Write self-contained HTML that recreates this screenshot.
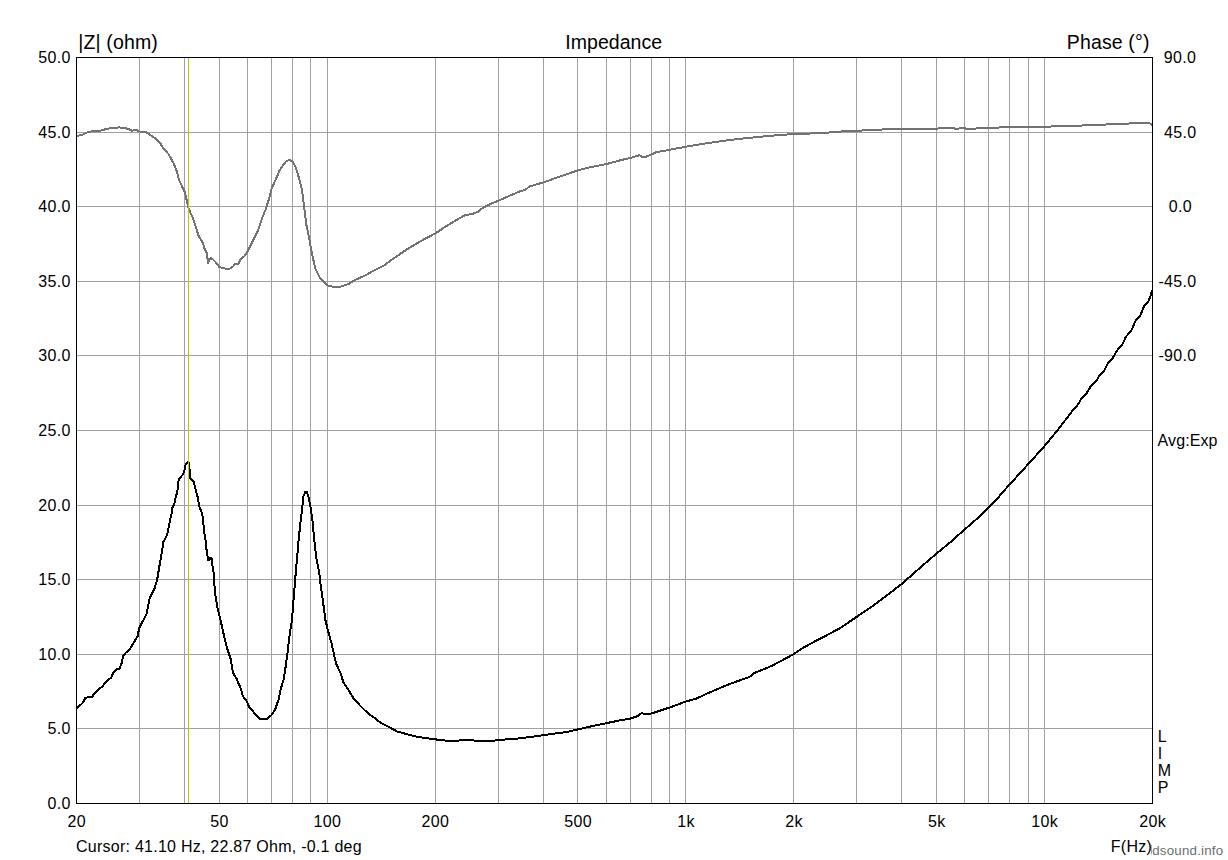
<!DOCTYPE html>
<html><head><meta charset="utf-8"><title>Impedance</title>
<style>
html,body{margin:0;padding:0;background:#fff;}
body{width:1228px;height:860px;overflow:hidden;position:relative;font-family:"Liberation Sans",sans-serif;}
svg{position:absolute;left:0;top:0;display:block}
text{font-family:"Liberation Sans",sans-serif;fill:#000}
.t16{font-size:16px;letter-spacing:0.3px}.t19{font-size:19.5px;letter-spacing:0.15px}
</style></head><body>
<svg width="1228" height="860" viewBox="0 0 1228 860">
<rect x="0" y="0" width="1228" height="860" fill="#fff"/>
<g shape-rendering="crispEdges" stroke="#a0a0a0" stroke-width="1" fill="none">
<line x1="139.5" y1="57.5" x2="139.5" y2="803.5"/>
<line x1="184.5" y1="57.5" x2="184.5" y2="803.5"/>
<line x1="219.5" y1="57.5" x2="219.5" y2="803.5"/>
<line x1="247.5" y1="57.5" x2="247.5" y2="803.5"/>
<line x1="271.5" y1="57.5" x2="271.5" y2="803.5"/>
<line x1="292.5" y1="57.5" x2="292.5" y2="803.5"/>
<line x1="310.5" y1="57.5" x2="310.5" y2="803.5"/>
<line x1="327.5" y1="57.5" x2="327.5" y2="803.5"/>
<line x1="435.5" y1="57.5" x2="435.5" y2="803.5"/>
<line x1="498.5" y1="57.5" x2="498.5" y2="803.5"/>
<line x1="543.5" y1="57.5" x2="543.5" y2="803.5"/>
<line x1="577.5" y1="57.5" x2="577.5" y2="803.5"/>
<line x1="606.5" y1="57.5" x2="606.5" y2="803.5"/>
<line x1="630.5" y1="57.5" x2="630.5" y2="803.5"/>
<line x1="651.5" y1="57.5" x2="651.5" y2="803.5"/>
<line x1="669.5" y1="57.5" x2="669.5" y2="803.5"/>
<line x1="685.5" y1="57.5" x2="685.5" y2="803.5"/>
<line x1="793.5" y1="57.5" x2="793.5" y2="803.5"/>
<line x1="856.5" y1="57.5" x2="856.5" y2="803.5"/>
<line x1="901.5" y1="57.5" x2="901.5" y2="803.5"/>
<line x1="936.5" y1="57.5" x2="936.5" y2="803.5"/>
<line x1="964.5" y1="57.5" x2="964.5" y2="803.5"/>
<line x1="988.5" y1="57.5" x2="988.5" y2="803.5"/>
<line x1="1009.5" y1="57.5" x2="1009.5" y2="803.5"/>
<line x1="1028.5" y1="57.5" x2="1028.5" y2="803.5"/>
<line x1="1044.5" y1="57.5" x2="1044.5" y2="803.5"/>
<line x1="76.5" y1="728.5" x2="1152.5" y2="728.5"/>
<line x1="76.5" y1="654.5" x2="1152.5" y2="654.5"/>
<line x1="76.5" y1="579.5" x2="1152.5" y2="579.5"/>
<line x1="76.5" y1="505.5" x2="1152.5" y2="505.5"/>
<line x1="76.5" y1="430.5" x2="1152.5" y2="430.5"/>
<line x1="76.5" y1="355.5" x2="1152.5" y2="355.5"/>
<line x1="76.5" y1="281.5" x2="1152.5" y2="281.5"/>
<line x1="76.5" y1="206.5" x2="1152.5" y2="206.5"/>
<line x1="76.5" y1="132.5" x2="1152.5" y2="132.5"/>
</g>
<g shape-rendering="crispEdges" fill="none" stroke-linejoin="round" stroke-linecap="butt">
<polyline stroke="#727272" stroke-width="2" points="76.8,135.7 81.4,135.2 87.9,132.0 96.1,130.8 103.4,130.4 105.0,128.7 115.6,128.2 118.9,127.3 127.8,128.7 131.9,130.8 136.0,129.5 139.2,131.5 145.7,131.7 149.8,134.8 155.5,138.5 160.4,143.4 163.6,148.8 168.5,154.0 173.4,162.9 176.7,171.1 179.1,180.0 184.8,192.2 186.9,201.2 188.9,209.3 193.0,218.3 196.2,228.1 198.7,236.2 202.7,242.7 204.9,249.7 207.1,253.4 207.9,263.2 210.8,257.5 215.2,261.6 219.3,266.9 224.2,268.4 229.1,268.9 232.7,266.9 235.3,263.7 238.5,263.7 240.8,259.1 244.6,255.9 247.8,251.0 252.7,241.2 257.6,231.4 261.7,219.2 265.7,209.4 269.0,198.9 271.4,189.1 275.5,180.1 279.6,170.4 282.8,165.5 286.1,161.4 289.3,160.1 292.6,161.4 295.9,167.9 299.1,178.5 302.1,190.7 304.0,205.4 306.4,224.9 309.7,241.2 312.1,254.2 315.4,268.9 320.3,278.7 327.6,285.5 333.3,286.8 341.5,286.5 348.8,283.9 356.1,279.5 365.9,275.1 374.0,270.5 383.8,265.6 394.7,257.6 409.3,247.8 424.0,239.3 435.7,233.2 446.0,226.3 455.7,220.5 465.5,214.8 471.6,214.3 477.7,211.9 482.6,208.0 492.4,203.1 498.5,200.7 509.5,195.8 519.3,191.6 525.4,189.9 529.0,186.7 543.7,182.3 560.8,176.2 577.9,170.4 590.1,167.2 606.7,164.0 621.9,159.9 630.4,157.9 639.5,155.2 642.6,157.4 646.3,156.7 656.1,152.3 669.5,149.8 685.9,146.7 706.6,143.3 731.1,139.8 755.5,137.2 779.9,135.0 793.4,134.0 821.5,133.2 841.0,131.5 856.9,130.8 877.7,129.6 902.1,129.1 936.3,128.6 947.3,127.9 953.4,127.9 955.9,129.1 962.0,127.9 968.3,129.0 989.1,127.7 1025.7,127.0 1044.5,126.7 1074.6,125.8 1099.0,124.8 1123.5,123.8 1143.0,122.8 1149.1,122.8 1152.3,125.3"/>
<polyline stroke="#000" stroke-width="2" points="76.9,708.0 82.6,703.1 85.1,698.2 88.3,697.0 92.4,696.8 94.0,693.7 99.3,688.5 101.8,687.2 105.0,683.2 108.3,679.5 111.1,677.9 113.2,672.6 116.8,668.9 119.7,668.5 121.7,662.8 122.9,656.7 125.4,653.0 128.6,651.0 131.5,646.5 135.1,640.4 137.6,636.2 139.2,628.0 146.5,614.2 149.8,597.9 154.7,588.1 157.1,580.0 158.9,569.2 160.0,562.7 161.2,556.2 162.4,548.9 163.2,542.3 165.9,537.5 167.7,532.6 168.9,526.1 170.0,520.4 171.4,514.7 172.2,508.1 174.2,504.1 175.7,496.9 177.0,493.0 178.0,486.5 178.7,479.6 182.6,474.8 184.2,471.5 185.5,464.7 187.8,462.4 189.1,463.0 189.7,471.5 189.7,478.0 193.6,481.3 195.6,489.1 197.6,496.9 198.0,500.0 199.4,506.5 201.5,512.2 202.9,517.9 203.4,524.4 204.3,532.6 205.6,540.7 206.4,548.9 207.6,556.2 208.0,560.3 209.6,559.9 210.4,557.8 212.1,558.5 212.3,565.1 213.3,569.2 214.1,579.7 215.0,593.0 217.4,607.7 220.7,620.7 223.9,635.4 227.2,648.4 230.9,659.8 232.9,672.8 236.1,677.7 241.0,689.1 242.6,695.6 246.7,701.3 249.2,707.0 254.9,713.6 260.3,718.9 267.3,718.9 272.0,714.5 275.2,709.3 278.5,699.8 280.9,688.4 283.9,678.6 285.8,665.6 287.8,650.9 289.4,636.3 292.0,620.0 294.0,594.0 295.6,574.5 297.2,556.5 298.4,541.9 300.5,522.3 302.4,506.1 303.4,496.3 305.4,491.7 307.0,492.2 308.6,497.1 310.6,507.7 312.7,522.3 314.3,540.3 316.4,558.2 319.2,572.8 320.8,585.9 323.3,603.8 325.4,620.0 328.2,631.4 331.4,642.8 333.9,654.2 336.3,664.0 340.4,672.9 343.6,682.7 348.5,690.0 353.4,698.2 360.7,706.3 368.9,714.1 375.4,718.5 380.3,722.6 388.4,726.7 397.4,731.6 406.4,734.0 416.1,736.6 429.2,738.6 438.9,739.8 449.8,741.0 464.4,740.2 479.1,740.7 493.8,740.7 498.6,740.0 520.6,738.3 543.8,735.1 567.0,731.9 577.6,729.5 591.5,726.3 606.6,723.1 620.8,720.2 630.6,718.5 637.9,716.0 641.6,712.9 644.0,714.1 650.1,713.9 659.9,710.7 669.7,707.5 685.5,701.6 696.5,698.5 708.8,692.8 723.4,686.5 737.1,681.3 749.3,677.1 754.2,673.0 771.3,666.1 793.3,654.4 803.1,647.8 817.7,639.8 827.5,634.9 839.7,628.3 856.8,616.8 871.5,606.8 886.1,596.0 901.3,584.3 913.0,574.0 927.7,561.1 936.2,553.8 949.7,542.8 964.3,529.8 976.5,519.1 988.8,507.3 996.1,500.0 1005.0,489.6 1025.7,466.9 1044.5,446.1 1057.5,430.3 1071.7,411.8 1078.2,404.2 1081.4,398.4 1086.6,393.2 1090.6,386.6 1096.4,380.8 1099.7,374.9 1104.2,370.4 1107.5,363.8 1112.1,359.3 1115.3,353.4 1119.2,347.6 1122.5,344.3 1125.7,337.1 1131.6,330.0 1135.5,320.8 1140.1,316.3 1144.0,306.2 1145.4,304.2 1148.4,301.3 1149.8,297.8 1151.0,294.4 1152.0,290.0"/>
<line x1="188.5" y1="57.5" x2="188.5" y2="803.5" stroke="#c3c300" stroke-width="1"/>
<rect x="76.5" y="57.5" width="1076.0" height="746.0" stroke="#000" stroke-width="1"/>
</g>
<g class="t19">
<text x="78.2" y="49">|Z| (ohm)</text>
<text x="613.7" y="49" text-anchor="middle" style="letter-spacing:0.02px">Impedance</text>
<text x="1149.6" y="49" text-anchor="end">Phase (°)</text>
</g><g class="t16">
<text x="70.7" y="809.0" text-anchor="end">0.0</text>
<text x="70.7" y="734.0" text-anchor="end">5.0</text>
<text x="70.7" y="660.0" text-anchor="end">10.0</text>
<text x="70.7" y="585.0" text-anchor="end">15.0</text>
<text x="70.7" y="511.0" text-anchor="end">20.0</text>
<text x="70.7" y="436.0" text-anchor="end">25.0</text>
<text x="70.7" y="361.0" text-anchor="end">30.0</text>
<text x="70.7" y="287.0" text-anchor="end">35.0</text>
<text x="70.7" y="212.0" text-anchor="end">40.0</text>
<text x="70.7" y="138.0" text-anchor="end">45.0</text>
<text x="70.7" y="63.0" text-anchor="end">50.0</text>
<text x="1163.8" y="63.0">90.0</text>
<text x="1164.0" y="138.0">45.0</text>
<text x="1168.7" y="212.0">0.0</text>
<text x="1158.4" y="287.0">-45.0</text>
<text x="1158.4" y="361.0">-90.0</text>
<text x="76.7" y="826.8" text-anchor="middle">20</text>
<text x="219.4" y="826.8" text-anchor="middle">50</text>
<text x="327.4" y="826.8" text-anchor="middle">100</text>
<text x="435.4" y="826.8" text-anchor="middle">200</text>
<text x="578.1" y="826.8" text-anchor="middle">500</text>
<text x="686.1" y="826.8" text-anchor="middle">1k</text>
<text x="794.0" y="826.8" text-anchor="middle">2k</text>
<text x="936.8" y="826.8" text-anchor="middle">5k</text>
<text x="1044.7" y="826.8" text-anchor="middle">10k</text>
<text x="1152.7" y="826.8" text-anchor="middle">20k</text>
<text x="1157.6" y="446.1" style="letter-spacing:0.1px">Avg:Exp</text>
<text x="1157.8" y="741.6">L</text>
<text x="1157.8" y="758.7">I</text>
<text x="1157.8" y="775.8">M</text>
<text x="1157.8" y="792.9">P</text>
<text x="76.0" y="852" style="letter-spacing:0.25px">Cursor: 41.10 Hz, 22.87 Ohm, -0.1 deg</text>
<text x="1110.7" y="852">F(Hz)</text>
<rect x="1151" y="844.8" width="1" height="9.7" fill="#a8a8a8"/>
<text x="1152.2" y="854.5" style="font-size:13.3px;fill:#6e6e6e;letter-spacing:0.22px">dsound.info</text>
</g>
</svg></body></html>
